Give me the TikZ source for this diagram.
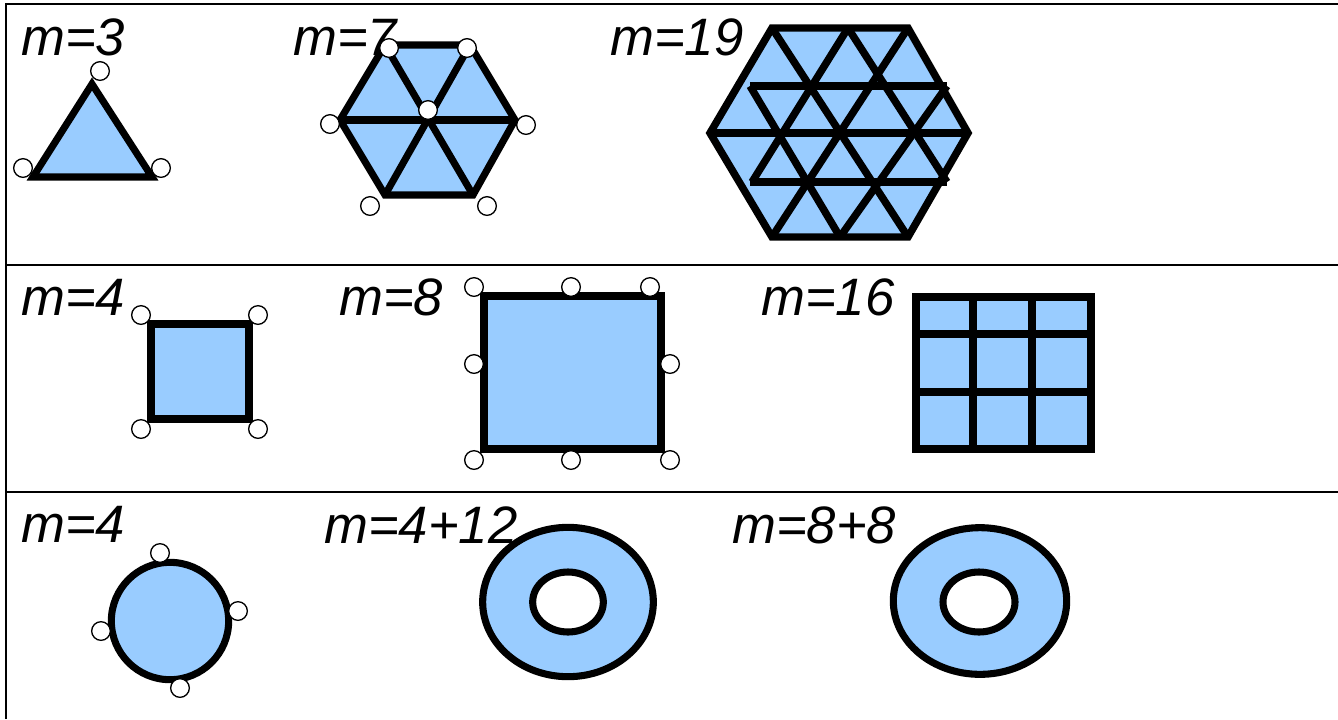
\documentclass[tikz,border=0pt]{standalone}
\usepackage{fontspec}
\setmainfont{Liberation Sans}
\definecolor{fillblue}{RGB}{153,204,255}
\begin{document}
\begin{tikzpicture}[x=0.75pt,y=-0.75pt,
  shp/.style={fill=fillblue, draw=black, line width=5.3pt},
  inl/.style={draw=black, line width=5.3pt},
  port/.style={circle, draw=black, fill=white, line width=1pt, minimum size=14pt, inner sep=0pt},
  lbl/.style={anchor=base west, inner sep=0pt, font=\fontsize{39.5pt}{42pt}\selectfont\itshape},
  rulel/.style={line width=1.5pt}]
\useasboundingbox (0,0) rectangle (1338,719);
\fill[white] (0,0) rectangle (1338,719);
% table rules
\coordinate (bl) at (6,719);
\coordinate (tl) at (6,4);
\coordinate (tr) at (1338,4);
\coordinate (r1l) at (6,265);
\coordinate (r1r) at (1338,265);
\coordinate (r2l) at (6,492);
\coordinate (r2r) at (1338,492);
\draw[rulel] (bl) -- (tl) -- (tr);
\draw[rulel] (r1l) -- (r1r);
\draw[rulel] (r2l) -- (r2r);
% labels
\node[lbl] (l3) at (21,55) {m=3};
\node[lbl] (l7) at (293,55) {m=7};
\node[lbl] (l19) at (610,55) {m=19};
\node[lbl] (l4a) at (21,315) {m=4};
\node[lbl] (l8) at (339,315) {m=8};
\node[lbl] (l16) at (761,315) {m=16};
\node[lbl] (l4b) at (21,542) {m=4};
\node[lbl] (l412) at (324,543) {m=4+12};
\node[lbl] (l88) at (732,543) {m=8+8};
% triangle
\draw[shp] (33,177) -- (92,84) -- (152,177) -- cycle;
\node[port] (t1) at (100,71) {};
\node[port] (t2) at (23,168) {};
\node[port] (t3) at (161,168) {};
% hexagon m=7
\draw[shp] (385,45) -- (470,45) -- (515,120) -- (473,195) -- (385,195) -- (340,120) -- cycle;
\draw[inl] (340,120) -- (515,120);
\draw[inl] (385,45) -- (473,195);
\draw[inl] (470,45) -- (385,195);
\node[port] (h1) at (389,48) {};
\node[port] (h2) at (467,48) {};
\node[port] (h3) at (428,110) {};
\node[port] (h4) at (330,124) {};
\node[port] (h5) at (526,125) {};
\node[port] (h6) at (370,206) {};
\node[port] (h7) at (487,206) {};
% hexagon m=19
\draw[shp, line width=5.6pt] (772,28) -- (908,28) -- (968,133) -- (908,237) -- (772,237) -- (710,133) -- cycle;
\begin{scope}[line width=5.6pt]
\draw[inl, line width=5.6pt] (750,86) -- (947,86);
\draw[inl, line width=5.6pt] (710,133) -- (968,133);
\draw[inl, line width=5.6pt] (750,182) -- (947,182);
\draw[inl, line width=5.6pt] (772,28) -- (908,237);
\draw[inl, line width=5.6pt] (848,28) -- (947,182);
\draw[inl, line width=5.6pt] (750,86) -- (840,237);
\draw[inl, line width=5.6pt] (908,28) -- (772,237);
\draw[inl, line width=5.6pt] (848,28) -- (752,182);
\draw[inl, line width=5.6pt] (947,86) -- (840,237);
\end{scope}
% square m=4
\draw[shp] (151,324) rectangle (249,419);
\node[port] (s1) at (141,315) {};
\node[port] (s2) at (258,315) {};
\node[port] (s3) at (141,429) {};
\node[port] (s4) at (258,429) {};
% square m=8
\draw[shp] (484,296) rectangle (661,449);
\node[port] (q1) at (474,287) {};
\node[port] (q2) at (571,287) {};
\node[port] (q3) at (650,287) {};
\node[port] (q4) at (474,364) {};
\node[port] (q5) at (670,364) {};
\node[port] (q6) at (474,460) {};
\node[port] (q7) at (571,460) {};
\node[port] (q8) at (670,460) {};
% grid m=16
\draw[shp, line width=6.3pt] (916,297) rectangle (1091,449);
\draw[inl, line width=6.3pt] (973,297) -- (973,449);
\draw[inl, line width=6.3pt] (1032,297) -- (1032,449);
\draw[inl, line width=6.3pt] (916,334) -- (1091,334);
\draw[inl, line width=6.3pt] (916,392) -- (1091,392);
% circle m=4
\draw[shp] (170,621) circle [radius=44pt];
\node[port] (c1) at (160,553) {};
\node[port] (c2) at (238,611) {};
\node[port] (c3) at (101,631) {};
\node[port] (c4) at (180,688) {};
% annulus m=4+12
\draw[shp, even odd rule] (568,602) ellipse [x radius=64pt, y radius=56pt]
  (568,602) ellipse [x radius=26.5pt, y radius=22.5pt];
% annulus m=8+8
\draw[shp, even odd rule] (980,601) ellipse [x radius=65pt, y radius=55pt]
  (979,602) ellipse [x radius=27pt, y radius=22.5pt];
\end{tikzpicture}
\end{document}
